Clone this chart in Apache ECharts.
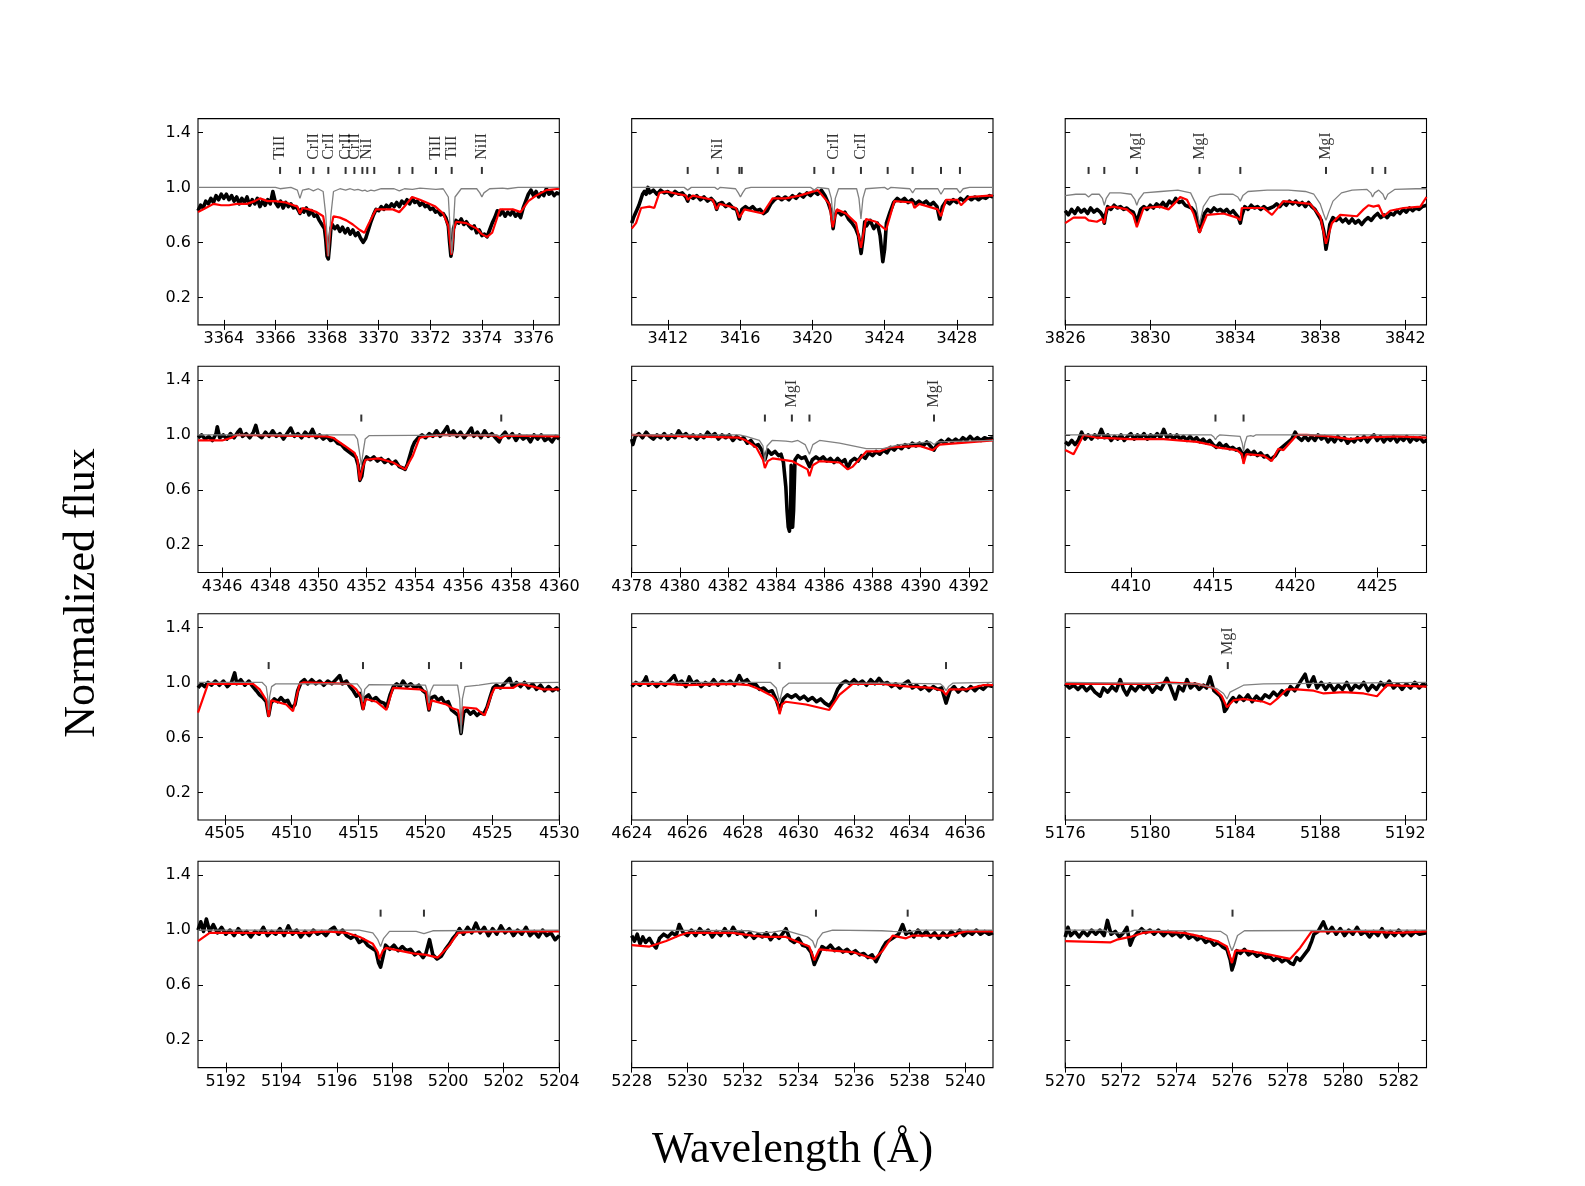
<!DOCTYPE html>
<html><head><meta charset="utf-8">
<script src="https://cdn.jsdelivr.net/npm/echarts@6/dist/echarts.min.js"></script>
<style>html,body{margin:0;padding:0;background:#fff}#c{width:1585px;height:1186px}</style>
</head><body><div id="c"></div>
<script>
// ---------- tick values ----------
const yTicks = [0.2, 0.6, 1.0, 1.4];
const xRange1 = [3363, 3377], xTicks1 = [3364,3366,3368,3370,3372,3374,3376];
const xRange2 = [3410, 3430], xTicks2 = [3412,3416,3420,3424,3428];
const xRange3 = [3826, 3843], xTicks3 = [3826,3830,3834,3838,3842];
const xRange4 = [4345, 4360], xTicks4 = [4346,4348,4350,4352,4354,4356,4358,4360];
const xRange5 = [4378, 4393], xTicks5 = [4378,4380,4382,4384,4386,4388,4390,4392];
const xRange6 = [4406, 4428], xTicks6 = [4410,4415,4420,4425];
const xRange7 = [4503, 4530], xTicks7 = [4505,4510,4515,4520,4525,4530];
const xRange8 = [4624, 4637], xTicks8 = [4624,4626,4628,4630,4632,4634,4636];
const xRange9 = [5176, 5193], xTicks9 = [5176,5180,5184,5188,5192];
const xRange10 = [5191, 5204], xTicks10 = [5192,5194,5196,5198,5200,5202,5204];
const xRange11 = [5228, 5241], xTicks11 = [5228,5230,5232,5234,5236,5238,5240];
const xRange12 = [5270, 5283], xTicks12 = [5270,5272,5274,5276,5278,5280,5282];

// ---------- panel 1 ----------
const obs1 = [[3363.0,0.83],[3363.1,0.87],[3363.2,0.85],[3363.3,0.90],[3363.4,0.88],[3363.5,0.92],[3363.6,0.89],[3363.7,0.94],[3363.8,0.91],[3363.9,0.95],[3364.0,0.92],[3364.1,0.95],[3364.2,0.91],[3364.3,0.94],[3364.4,0.90],[3364.5,0.93],[3364.6,0.88],[3364.7,0.92],[3364.8,0.89],[3364.9,0.93],[3365.0,0.87],[3365.1,0.91],[3365.2,0.88],[3365.3,0.92],[3365.4,0.86],[3365.5,0.90],[3365.6,0.87],[3365.7,0.91],[3365.8,0.88],[3365.9,0.97],[3366.0,0.89],[3366.1,0.86],[3366.2,0.90],[3366.3,0.85],[3366.4,0.89],[3366.5,0.86],[3366.6,0.88],[3366.7,0.85],[3366.8,0.86],[3366.9,0.83],[3366.95,0.81],[3367.0,0.84],[3367.1,0.82],[3367.2,0.85],[3367.3,0.80],[3367.4,0.83],[3367.5,0.79],[3367.6,0.80],[3367.7,0.76],[3367.8,0.73],[3367.9,0.70],[3367.95,0.62],[3368.0,0.50],[3368.05,0.48],[3368.1,0.58],[3368.15,0.70],[3368.2,0.73],[3368.3,0.70],[3368.4,0.72],[3368.5,0.68],[3368.6,0.71],[3368.7,0.67],[3368.8,0.70],[3368.9,0.66],[3369.0,0.69],[3369.1,0.65],[3369.2,0.67],[3369.3,0.63],[3369.4,0.60],[3369.5,0.63],[3369.6,0.69],[3369.7,0.75],[3369.8,0.80],[3369.9,0.84],[3370.0,0.83],[3370.1,0.86],[3370.2,0.84],[3370.3,0.87],[3370.4,0.85],[3370.5,0.88],[3370.6,0.86],[3370.7,0.89],[3370.8,0.86],[3370.9,0.90],[3371.0,0.88],[3371.1,0.91],[3371.2,0.88],[3371.3,0.92],[3371.4,0.89],[3371.5,0.90],[3371.6,0.87],[3371.7,0.89],[3371.8,0.86],[3371.9,0.87],[3372.0,0.84],[3372.1,0.85],[3372.2,0.82],[3372.3,0.83],[3372.4,0.80],[3372.5,0.81],[3372.6,0.78],[3372.7,0.72],[3372.75,0.60],[3372.8,0.50],[3372.85,0.55],[3372.9,0.70],[3373.0,0.76],[3373.1,0.74],[3373.2,0.77],[3373.3,0.73],[3373.4,0.75],[3373.5,0.72],[3373.6,0.70],[3373.7,0.72],[3373.8,0.67],[3373.9,0.69],[3374.0,0.65],[3374.1,0.66],[3374.2,0.64],[3374.3,0.69],[3374.4,0.74],[3374.5,0.78],[3374.6,0.83],[3374.7,0.80],[3374.8,0.83],[3374.9,0.79],[3375.0,0.82],[3375.1,0.80],[3375.2,0.83],[3375.3,0.79],[3375.4,0.81],[3375.5,0.78],[3375.6,0.85],[3375.7,0.90],[3375.8,0.95],[3375.9,0.98],[3376.0,0.94],[3376.1,0.97],[3376.2,0.93],[3376.3,0.96],[3376.4,0.94],[3376.5,0.99],[3376.6,0.95],[3376.7,0.97],[3376.8,0.94],[3376.9,0.96],[3377.0,0.95]];
const mod1 = [[3363.0,0.82],[3363.3,0.85],[3363.6,0.88],[3363.9,0.87],[3364.2,0.87],[3364.5,0.88],[3364.9,0.88],[3365.2,0.90],[3365.4,0.92],[3365.7,0.90],[3366.0,0.90],[3366.4,0.89],[3366.7,0.87],[3366.85,0.86],[3366.95,0.81],[3367.05,0.85],[3367.3,0.84],[3367.6,0.82],[3367.85,0.79],[3367.95,0.68],[3368.04,0.50],[3368.12,0.68],[3368.25,0.79],[3368.5,0.78],[3368.75,0.76],[3369.0,0.73],[3369.27,0.69],[3369.45,0.67],[3369.6,0.73],[3369.9,0.84],[3370.2,0.84],[3370.55,0.84],[3370.8,0.82],[3371.0,0.86],[3371.3,0.93],[3371.6,0.91],[3371.85,0.89],[3372.2,0.86],[3372.5,0.81],[3372.7,0.72],[3372.82,0.51],[3372.92,0.70],[3373.0,0.75],[3373.4,0.74],[3373.8,0.70],[3374.0,0.66],[3374.2,0.64],[3374.4,0.67],[3374.7,0.84],[3375.2,0.84],[3375.5,0.82],[3375.8,0.90],[3376.1,0.94],[3376.5,0.98],[3377.0,0.99]];
const syn1 = [[3363.0,1.0],[3366.0,1.0],[3366.18,0.99],[3366.6,1.0],[3366.85,0.98],[3366.95,0.92],[3367.05,0.98],[3367.3,0.99],[3367.47,0.975],[3367.65,0.99],[3367.85,0.97],[3367.95,0.80],[3368.05,0.50],[3368.15,0.80],[3368.25,0.97],[3368.5,0.99],[3368.72,0.98],[3368.9,0.99],[3369.06,0.98],[3369.2,0.985],[3369.37,0.975],[3369.47,0.98],[3369.56,0.97],[3369.7,0.98],[3369.83,0.975],[3370.1,0.99],[3370.6,0.99],[3370.8,0.975],[3371.0,0.99],[3371.31,0.985],[3371.6,0.995],[3372.22,0.985],[3372.5,0.99],[3372.7,0.93],[3372.77,0.70],[3372.83,0.52],[3372.89,0.70],[3372.96,0.93],[3373.2,0.99],[3373.8,0.99],[3373.92,0.96],[3374.0,0.93],[3374.08,0.96],[3374.3,0.99],[3374.8,0.995],[3375.0,0.99],[3375.4,1.0],[3377.0,1.0]];
const marks1 = [[3366.18,'TiII'],[3366.95,''],[3367.47,'CrII'],[3368.05,'CrII'],[3368.72,'CrII'],[3369.06,'CrII'],[3369.37,''],[3369.56,'NiI'],[3369.83,''],[3370.80,''],[3371.31,''],[3372.22,'TiII'],[3372.83,'TiII'],[3374.00,'NiII']];

// ---------- panel 2 ----------
const obs2 = [[3410.0,0.74],[3410.1,0.78],[3410.2,0.81],[3410.3,0.84],[3410.4,0.87],[3410.5,0.91],[3410.6,0.95],[3410.7,0.97],[3410.8,0.95],[3410.9,1.00],[3411.0,0.96],[3411.2,0.98],[3411.4,0.95],[3411.6,0.98],[3411.8,0.96],[3412.0,0.97],[3412.2,0.94],[3412.4,0.97],[3412.6,0.95],[3412.8,0.96],[3413.0,0.93],[3413.1,0.90],[3413.2,0.94],[3413.4,0.92],[3413.6,0.94],[3413.8,0.91],[3414.0,0.93],[3414.2,0.90],[3414.4,0.92],[3414.6,0.89],[3414.7,0.84],[3414.8,0.88],[3415.0,0.89],[3415.2,0.86],[3415.4,0.88],[3415.6,0.85],[3415.8,0.84],[3415.95,0.77],[3416.1,0.84],[3416.3,0.86],[3416.5,0.84],[3416.7,0.86],[3416.9,0.83],[3417.1,0.84],[3417.3,0.81],[3417.5,0.83],[3417.7,0.88],[3417.9,0.91],[3418.1,0.93],[3418.3,0.91],[3418.5,0.93],[3418.7,0.91],[3418.9,0.94],[3419.1,0.92],[3419.3,0.95],[3419.5,0.93],[3419.7,0.96],[3419.9,0.94],[3420.1,0.97],[3420.3,0.95],[3420.5,0.98],[3420.7,0.94],[3420.9,0.88],[3421.05,0.82],[3421.15,0.70],[3421.25,0.80],[3421.4,0.83],[3421.6,0.80],[3421.8,0.82],[3422.0,0.77],[3422.2,0.74],[3422.4,0.70],[3422.55,0.65],[3422.7,0.52],[3422.8,0.62],[3422.9,0.75],[3423.0,0.72],[3423.2,0.76],[3423.4,0.70],[3423.6,0.74],[3423.75,0.65],[3423.9,0.46],[3424.0,0.55],[3424.1,0.74],[3424.3,0.82],[3424.5,0.89],[3424.7,0.92],[3424.9,0.90],[3425.1,0.92],[3425.3,0.89],[3425.5,0.91],[3425.7,0.88],[3425.9,0.90],[3426.1,0.88],[3426.3,0.90],[3426.5,0.87],[3426.7,0.89],[3426.9,0.86],[3427.05,0.77],[3427.2,0.86],[3427.4,0.90],[3427.6,0.88],[3427.8,0.91],[3428.0,0.89],[3428.2,0.92],[3428.4,0.90],[3428.6,0.93],[3428.8,0.91],[3429.0,0.93],[3429.2,0.91],[3429.4,0.93],[3429.6,0.92],[3429.8,0.94],[3430.0,0.93]];
const mod2 = [[3410.0,0.70],[3410.24,0.74],[3410.52,0.85],[3410.98,0.86],[3411.25,0.85],[3411.53,0.96],[3411.90,0.97],[3413.01,0.94],[3413.10,0.91],[3413.38,0.94],[3414.48,0.91],[3414.70,0.84],[3414.85,0.88],[3415.77,0.85],[3415.96,0.78],[3416.24,0.84],[3417.25,0.81],[3417.80,0.92],[3418.54,0.92],[3419.28,0.94],[3420.30,0.98],[3420.94,0.88],[3421.13,0.71],[3421.35,0.84],[3421.86,0.81],[3422.42,0.74],[3422.69,0.56],[3422.97,0.77],[3423.52,0.75],[3424.08,0.69],[3424.54,0.90],[3425.55,0.89],[3425.65,0.85],[3425.92,0.88],[3426.94,0.84],[3427.12,0.79],[3427.40,0.91],[3428.04,0.91],[3428.23,0.87],[3428.69,0.93],[3429.80,0.94],[3430.0,0.94]];
const syn2 = [[3410.0,1.0],[3412.9,1.0],[3413.10,0.98],[3413.3,1.0],[3414.6,1.0],[3414.76,0.985],[3414.9,1.0],[3415.75,0.99],[3415.9,0.96],[3416.02,0.93],[3416.14,0.96],[3416.3,0.99],[3416.6,1.0],[3419.9,1.0],[3420.11,0.98],[3420.3,1.0],[3420.9,0.99],[3421.05,0.92],[3421.16,0.76],[3421.27,0.92],[3421.45,0.99],[3422.45,0.99],[3422.58,0.92],[3422.69,0.77],[3422.8,0.92],[3422.95,0.99],[3424.0,1.0],[3424.17,0.985],[3424.35,1.0],[3425.4,0.99],[3425.55,0.96],[3425.7,0.99],[3426.95,0.99],[3427.12,0.95],[3427.3,0.99],[3428.0,0.99],[3428.17,0.96],[3428.35,0.99],[3428.7,1.0],[3430.0,1.0]];
const marks2 = [[3413.10,''],[3414.76,'NiI'],[3415.96,''],[3416.09,''],[3420.11,''],[3421.16,'CrII'],[3422.69,'CrII'],[3424.17,''],[3425.55,''],[3427.12,''],[3428.17,'']];

// ---------- panel 3 ----------
const obs3 = [[3826.0,0.83],[3826.15,0.80],[3826.3,0.84],[3826.45,0.81],[3826.6,0.85],[3826.75,0.82],[3826.9,0.84],[3827.05,0.81],[3827.2,0.85],[3827.35,0.82],[3827.5,0.84],[3827.65,0.82],[3827.78,0.79],[3827.84,0.74],[3827.9,0.80],[3828.0,0.86],[3828.15,0.84],[3828.3,0.87],[3828.45,0.85],[3828.6,0.86],[3828.75,0.84],[3828.9,0.85],[3829.05,0.83],[3829.2,0.82],[3829.3,0.78],[3829.37,0.74],[3829.45,0.79],[3829.55,0.84],[3829.7,0.86],[3829.85,0.84],[3830.0,0.87],[3830.15,0.85],[3830.3,0.88],[3830.45,0.86],[3830.6,0.89],[3830.75,0.86],[3830.9,0.90],[3831.05,0.88],[3831.2,0.92],[3831.35,0.89],[3831.5,0.90],[3831.65,0.87],[3831.8,0.86],[3831.95,0.85],[3832.1,0.82],[3832.2,0.77],[3832.32,0.68],[3832.42,0.74],[3832.55,0.81],[3832.7,0.84],[3832.85,0.82],[3833.0,0.85],[3833.15,0.83],[3833.3,0.84],[3833.45,0.82],[3833.6,0.84],[3833.75,0.81],[3833.9,0.83],[3834.05,0.80],[3834.15,0.78],[3834.24,0.74],[3834.32,0.80],[3834.45,0.86],[3834.6,0.84],[3834.75,0.87],[3834.9,0.85],[3835.05,0.86],[3835.2,0.84],[3835.35,0.86],[3835.5,0.84],[3835.65,0.85],[3835.8,0.86],[3835.95,0.88],[3836.1,0.86],[3836.25,0.89],[3836.4,0.87],[3836.55,0.90],[3836.7,0.88],[3836.85,0.90],[3837.0,0.87],[3837.15,0.89],[3837.3,0.86],[3837.45,0.89],[3837.6,0.86],[3837.75,0.84],[3837.9,0.80],[3838.05,0.76],[3838.17,0.68],[3838.27,0.55],[3838.35,0.62],[3838.45,0.73],[3838.6,0.78],[3838.75,0.76],[3838.9,0.78],[3839.05,0.75],[3839.2,0.77],[3839.35,0.74],[3839.5,0.77],[3839.65,0.74],[3839.8,0.76],[3839.95,0.73],[3840.1,0.76],[3840.25,0.78],[3840.4,0.76],[3840.55,0.79],[3840.7,0.81],[3840.85,0.78],[3841.0,0.80],[3841.15,0.78],[3841.3,0.81],[3841.45,0.80],[3841.6,0.83],[3841.75,0.81],[3841.9,0.84],[3842.05,0.82],[3842.2,0.85],[3842.35,0.83],[3842.5,0.85],[3842.65,0.84],[3842.8,0.86],[3843.0,0.87]];
const mod3 = [[3826.0,0.74],[3826.39,0.78],[3826.94,0.78],[3827.10,0.76],[3827.49,0.75],[3827.73,0.77],[3827.84,0.74],[3827.96,0.85],[3828.27,0.86],[3828.90,0.84],[3829.2,0.80],[3829.37,0.71],[3829.69,0.85],[3830.47,0.86],[3830.86,0.84],[3831.25,0.90],[3831.41,0.93],[3831.73,0.91],[3832.04,0.81],[3832.32,0.67],[3832.67,0.80],[3833.45,0.81],[3834.08,0.78],[3834.24,0.76],[3834.31,0.85],[3835.33,0.85],[3835.73,0.80],[3836.27,0.90],[3837.53,0.88],[3838.00,0.79],[3838.27,0.59],[3838.55,0.74],[3838.94,0.80],[3839.73,0.79],[3840.04,0.84],[3840.27,0.87],[3840.51,0.86],[3840.75,0.87],[3840.98,0.79],[3841.29,0.83],[3841.92,0.85],[3842.71,0.86],[3843.0,0.93]];
const syn3 = [[3826.0,0.94],[3826.5,0.95],[3826.95,0.95],[3827.1,0.93],[3827.25,0.95],[3827.6,0.95],[3827.75,0.92],[3827.84,0.87],[3827.93,0.92],[3828.1,0.96],[3828.6,0.96],[3829.1,0.95],[3829.28,0.91],[3829.37,0.87],[3829.46,0.91],[3829.7,0.96],[3830.5,0.97],[3831.3,0.98],[3831.9,0.96],[3832.15,0.88],[3832.32,0.73],[3832.5,0.86],[3832.8,0.93],[3833.3,0.95],[3833.9,0.95],[3834.12,0.93],[3834.24,0.90],[3834.36,0.94],[3834.6,0.97],[3835.5,0.98],[3836.5,0.98],[3837.3,0.97],[3837.7,0.95],[3838.0,0.88],[3838.15,0.81],[3838.27,0.76],[3838.4,0.82],[3838.6,0.90],[3839.0,0.96],[3839.5,0.98],[3840.2,0.985],[3840.38,0.96],[3840.46,0.93],[3840.56,0.96],[3840.75,0.98],[3840.95,0.95],[3841.06,0.91],[3841.18,0.95],[3841.5,0.985],[3842.5,0.99],[3843.0,0.99]];
const marks3 = [[3827.10,''],[3827.84,''],[3829.37,'MgI'],[3832.32,'MgI'],[3834.24,''],[3838.27,'MgI'],[3840.46,''],[3841.06,'']];

// ---------- panel 4 ----------
const obs4 = [[4345.0,0.98],[4345.15,1.00],[4345.3,0.97],[4345.45,0.99],[4345.6,0.96],[4345.75,1.01],[4345.8,1.06],[4345.9,0.98],[4346.05,1.00],[4346.2,0.97],[4346.35,1.01],[4346.5,0.98],[4346.65,1.02],[4346.75,1.04],[4346.85,0.99],[4347.0,1.01],[4347.15,0.98],[4347.3,1.02],[4347.4,1.07],[4347.5,1.00],[4347.65,0.98],[4347.8,1.02],[4347.95,0.99],[4348.1,1.03],[4348.25,0.99],[4348.4,1.01],[4348.55,0.97],[4348.7,1.01],[4348.85,1.05],[4349.0,0.99],[4349.15,1.01],[4349.3,0.98],[4349.45,1.02],[4349.6,0.99],[4349.75,1.04],[4349.9,0.98],[4350.05,1.00],[4350.2,0.97],[4350.35,0.99],[4350.5,0.96],[4350.65,0.97],[4350.8,0.94],[4350.95,0.93],[4351.1,0.90],[4351.25,0.88],[4351.4,0.86],[4351.55,0.84],[4351.65,0.78],[4351.72,0.67],[4351.8,0.70],[4351.88,0.80],[4352.0,0.84],[4352.15,0.82],[4352.3,0.84],[4352.45,0.81],[4352.6,0.83],[4352.75,0.80],[4352.9,0.82],[4353.05,0.79],[4353.2,0.81],[4353.35,0.77],[4353.5,0.76],[4353.6,0.75],[4353.7,0.79],[4353.8,0.85],[4353.9,0.91],[4354.0,0.95],[4354.15,0.98],[4354.3,1.00],[4354.45,0.98],[4354.6,1.01],[4354.75,0.99],[4354.9,1.03],[4355.05,0.99],[4355.2,1.02],[4355.35,1.06],[4355.45,1.00],[4355.6,1.03],[4355.75,0.99],[4355.9,1.02],[4356.05,0.98],[4356.2,1.01],[4356.35,1.05],[4356.45,0.99],[4356.6,1.02],[4356.75,0.98],[4356.9,1.03],[4357.05,0.99],[4357.2,1.01],[4357.35,0.98],[4357.5,0.95],[4357.6,0.99],[4357.75,1.02],[4357.9,0.98],[4358.05,1.01],[4358.2,0.96],[4358.35,1.00],[4358.5,0.97],[4358.65,0.99],[4358.8,0.95],[4358.95,1.00],[4359.1,0.97],[4359.25,1.00],[4359.4,0.96],[4359.55,0.98],[4359.7,0.95],[4359.85,0.99],[4360.0,0.97]];
const mod4 = [[4345.0,0.96],[4345.5,0.96],[4346.0,0.96],[4346.4,0.98],[4346.6,1.0],[4350.33,0.99],[4350.6,0.98],[4351.1,0.92],[4351.5,0.87],[4351.62,0.82],[4351.72,0.67],[4351.82,0.75],[4351.95,0.82],[4352.5,0.83],[4353.1,0.80],[4353.6,0.75],[4353.92,0.85],[4354.2,0.98],[4354.5,0.99],[4355.2,1.0],[4357.4,0.995],[4357.55,0.975],[4357.75,0.995],[4360.0,0.99]];
const syn4 = [[4345.0,1.0],[4351.5,1.0],[4351.62,0.97],[4351.7,0.88],[4351.78,0.78],[4351.86,0.88],[4351.94,0.97],[4352.1,0.995],[4357.4,1.0],[4357.55,0.99],[4357.7,1.0],[4360.0,1.0]];
const marks4 = [[4351.78,''],[4357.59,'']];

// ---------- panel 5 ----------
const obs5 = [[4378.0,0.97],[4378.05,0.93],[4378.15,0.99],[4378.3,1.01],[4378.45,0.98],[4378.6,1.02],[4378.75,0.99],[4378.9,0.97],[4379.05,1.00],[4379.2,0.98],[4379.35,1.01],[4379.5,0.97],[4379.65,1.00],[4379.8,0.98],[4379.95,1.03],[4380.1,0.99],[4380.25,1.01],[4380.4,0.98],[4380.55,1.00],[4380.7,0.97],[4380.85,1.00],[4381.0,0.98],[4381.15,1.02],[4381.3,0.99],[4381.45,1.01],[4381.6,0.97],[4381.75,1.00],[4381.9,0.98],[4382.05,1.00],[4382.2,0.96],[4382.35,0.99],[4382.5,0.97],[4382.65,0.98],[4382.8,0.94],[4382.95,0.96],[4383.1,0.92],[4383.25,0.93],[4383.4,0.89],[4383.53,0.82],[4383.65,0.89],[4383.8,0.86],[4383.95,0.88],[4384.1,0.85],[4384.2,0.86],[4384.3,0.80],[4384.4,0.62],[4384.45,0.45],[4384.5,0.33],[4384.55,0.30],[4384.6,0.45],[4384.62,0.78],[4384.65,0.60],[4384.68,0.33],[4384.72,0.45],[4384.78,0.82],[4384.9,0.85],[4385.05,0.83],[4385.2,0.84],[4385.38,0.77],[4385.5,0.82],[4385.65,0.84],[4385.8,0.82],[4385.95,0.84],[4386.1,0.81],[4386.25,0.83],[4386.4,0.80],[4386.55,0.83],[4386.7,0.80],[4386.85,0.82],[4386.97,0.76],[4387.1,0.81],[4387.25,0.83],[4387.4,0.81],[4387.55,0.85],[4387.7,0.83],[4387.85,0.87],[4388.0,0.85],[4388.15,0.88],[4388.3,0.86],[4388.45,0.89],[4388.6,0.87],[4388.75,0.91],[4388.9,0.89],[4389.05,0.92],[4389.2,0.90],[4389.35,0.93],[4389.5,0.91],[4389.65,0.94],[4389.8,0.92],[4389.95,0.94],[4390.1,0.92],[4390.25,0.95],[4390.4,0.92],[4390.55,0.89],[4390.7,0.94],[4390.85,0.96],[4391.0,0.94],[4391.15,0.97],[4391.3,0.95],[4391.45,0.97],[4391.6,0.95],[4391.75,0.98],[4391.9,0.96],[4392.05,0.99],[4392.2,0.96],[4392.35,0.98],[4392.5,0.96],[4392.65,0.98],[4392.8,0.97],[4393.0,0.98]];
const mod5 = [[4378.0,1.0],[4382.47,0.98],[4382.75,0.96],[4383.17,0.91],[4383.45,0.82],[4383.53,0.76],[4383.65,0.81],[4383.85,0.83],[4384.65,0.81],[4385.3,0.75],[4385.38,0.70],[4385.52,0.78],[4385.8,0.81],[4386.63,0.80],[4386.97,0.75],[4387.18,0.77],[4387.74,0.88],[4388.29,0.88],[4388.71,0.91],[4389.96,0.92],[4390.5,0.89],[4390.78,0.93],[4393.0,0.96]];
const syn5 = [[4378.0,1.0],[4382.47,1.0],[4382.75,0.99],[4383.3,0.96],[4383.45,0.92],[4383.53,0.81],[4383.62,0.92],[4383.83,0.96],[4384.4,0.955],[4384.65,0.95],[4384.9,0.96],[4385.2,0.93],[4385.38,0.86],[4385.52,0.93],[4385.8,0.96],[4386.63,0.94],[4387.74,0.90],[4388.43,0.90],[4389.12,0.93],[4390.4,0.95],[4390.55,0.93],[4390.7,0.95],[4393.0,0.96]];
const marks5 = [[4383.53,''],[4384.65,'MgI'],[4385.38,''],[4390.55,'MgI']];

// ---------- panel 6 ----------
const obs6 = [[4406.0,0.95],[4406.2,0.93],[4406.4,0.96],[4406.6,0.93],[4406.8,0.96],[4407.0,1.02],[4407.2,0.97],[4407.4,1.00],[4407.6,0.97],[4407.8,1.00],[4408.0,0.98],[4408.2,1.04],[4408.4,0.98],[4408.6,1.00],[4408.8,0.96],[4409.0,0.99],[4409.2,0.97],[4409.4,1.00],[4409.6,0.96],[4409.8,0.99],[4410.0,1.01],[4410.2,0.97],[4410.4,1.00],[4410.6,0.98],[4410.8,1.01],[4411.0,0.97],[4411.2,1.00],[4411.4,0.98],[4411.6,1.01],[4411.8,0.98],[4412.0,1.04],[4412.2,0.98],[4412.4,1.00],[4412.6,0.97],[4412.8,1.00],[4413.0,0.97],[4413.2,0.99],[4413.4,0.96],[4413.6,0.99],[4413.8,0.96],[4414.0,0.98],[4414.2,0.95],[4414.4,0.97],[4414.6,0.94],[4414.8,0.96],[4415.0,0.93],[4415.2,0.91],[4415.4,0.94],[4415.6,0.91],[4415.8,0.93],[4416.0,0.90],[4416.2,0.91],[4416.4,0.89],[4416.6,0.90],[4416.75,0.87],[4416.86,0.83],[4416.95,0.87],[4417.1,0.89],[4417.3,0.86],[4417.5,0.88],[4417.7,0.85],[4417.9,0.87],[4418.1,0.84],[4418.3,0.85],[4418.5,0.82],[4418.6,0.81],[4418.8,0.85],[4419.0,0.89],[4419.2,0.91],[4419.4,0.93],[4419.6,0.95],[4419.8,0.97],[4420.0,1.02],[4420.2,0.98],[4420.4,0.96],[4420.6,0.99],[4420.8,0.96],[4421.0,0.99],[4421.2,0.96],[4421.4,1.00],[4421.6,0.97],[4421.8,0.99],[4422.0,0.95],[4422.2,0.98],[4422.4,0.95],[4422.6,0.99],[4422.8,0.96],[4423.0,0.98],[4423.2,0.94],[4423.4,0.97],[4423.6,0.95],[4423.8,0.98],[4424.0,0.96],[4424.2,0.99],[4424.4,0.95],[4424.6,0.98],[4424.8,1.00],[4425.0,0.96],[4425.2,0.99],[4425.4,0.95],[4425.6,0.98],[4425.8,0.96],[4426.0,0.99],[4426.2,0.95],[4426.4,0.98],[4426.6,0.96],[4426.8,0.99],[4427.0,0.95],[4427.2,0.98],[4427.4,0.96],[4427.6,0.98],[4427.8,0.95],[4428.0,0.96]];
const mod6 = [[4406.0,0.89],[4406.51,0.86],[4407.12,1.0],[4407.93,0.98],[4409.96,0.97],[4411.99,0.97],[4414.02,0.95],[4414.83,0.93],[4415.24,0.91],[4416.45,0.89],[4416.76,0.86],[4416.86,0.79],[4417.02,0.86],[4418.08,0.85],[4418.58,0.81],[4418.99,0.90],[4419.29,0.89],[4420.11,1.0],[4420.71,1.0],[4422.14,0.99],[4423.35,0.97],[4424.17,0.98],[4426.19,0.99],[4428.0,0.98]];
const syn6 = [[4406.0,1.0],[4414.9,1.0],[4415.05,0.985],[4415.15,0.965],[4415.25,0.985],[4415.4,1.0],[4416.65,0.99],[4416.78,0.94],[4416.86,0.88],[4416.94,0.94],[4417.07,0.99],[4417.3,0.995],[4417.45,0.99],[4417.6,1.0],[4428.0,1.0]];
const marks6 = [[4415.15,''],[4416.86,'']];

// ---------- panel 7 ----------
const obs7 = [[4503.0,0.96],[4503.25,0.99],[4503.5,0.97],[4503.75,1.00],[4504.0,0.98],[4504.3,1.01],[4504.6,0.98],[4504.9,1.01],[4505.2,0.97],[4505.5,1.00],[4505.74,1.07],[4505.9,0.99],[4506.2,1.02],[4506.5,0.98],[4506.8,1.01],[4507.1,0.97],[4507.36,0.94],[4507.6,0.91],[4507.85,0.89],[4508.1,0.86],[4508.28,0.76],[4508.45,0.85],[4508.7,0.88],[4508.95,0.86],[4509.2,0.89],[4509.45,0.86],[4509.7,0.87],[4509.9,0.83],[4510.1,0.82],[4510.25,0.84],[4510.45,0.94],[4510.7,1.00],[4510.95,1.02],[4511.2,0.99],[4511.5,1.02],[4511.8,0.99],[4512.1,1.01],[4512.4,0.98],[4512.7,1.01],[4513.0,0.99],[4513.3,1.02],[4513.59,1.05],[4513.8,0.99],[4514.1,1.01],[4514.35,0.97],[4514.6,0.94],[4514.85,0.90],[4515.1,0.92],[4515.33,0.81],[4515.5,0.89],[4515.75,0.91],[4516.0,0.87],[4516.3,0.89],[4516.6,0.86],[4516.9,0.85],[4517.1,0.82],[4517.35,0.91],[4517.6,0.97],[4517.85,0.99],[4518.1,0.97],[4518.32,1.01],[4518.6,0.97],[4518.9,0.99],[4519.2,0.96],[4519.5,0.98],[4519.8,0.94],[4520.05,0.92],[4520.26,0.80],[4520.45,0.89],[4520.7,0.90],[4520.95,0.87],[4521.2,0.89],[4521.45,0.85],[4521.7,0.86],[4521.95,0.80],[4522.2,0.78],[4522.45,0.76],[4522.66,0.63],[4522.85,0.78],[4523.1,0.80],[4523.35,0.77],[4523.6,0.79],[4523.85,0.76],[4524.1,0.78],[4524.35,0.77],[4524.6,0.82],[4524.85,0.90],[4525.05,0.96],[4525.3,0.98],[4525.6,0.96],[4525.9,0.99],[4526.29,1.03],[4526.5,0.97],[4526.8,1.00],[4527.1,0.97],[4527.4,1.00],[4527.7,0.96],[4528.0,0.99],[4528.3,0.95],[4528.6,0.98],[4528.9,0.94],[4529.2,0.97],[4529.5,0.94],[4529.8,0.96],[4530.0,0.94]];
const mod7 = [[4503.0,0.78],[4503.75,0.99],[4507.11,0.99],[4507.61,0.95],[4508.11,0.87],[4508.28,0.75],[4508.48,0.87],[4509.60,0.84],[4510.10,0.79],[4510.60,0.99],[4510.85,1.0],[4514.34,0.99],[4514.83,0.95],[4515.21,0.89],[4515.33,0.80],[4515.53,0.88],[4516.33,0.86],[4517.08,0.80],[4517.57,0.96],[4519.57,0.95],[4520.07,0.93],[4520.26,0.80],[4520.44,0.87],[4521.56,0.84],[4522.06,0.81],[4522.43,0.80],[4522.56,0.81],[4522.66,0.69],[4522.81,0.82],[4523.80,0.81],[4524.42,0.76],[4524.92,0.91],[4525.17,0.96],[4526.54,0.96],[4527.04,0.99],[4528.04,0.97],[4528.78,0.95],[4530.0,0.95]];
const syn7 = [[4503.0,1.0],[4507.8,1.0],[4508.1,0.97],[4508.2,0.90],[4508.28,0.80],[4508.36,0.90],[4508.5,0.97],[4508.8,0.99],[4514.9,0.99],[4515.2,0.95],[4515.33,0.86],[4515.46,0.95],[4515.8,0.985],[4520.0,0.98],[4520.16,0.93],[4520.26,0.85],[4520.36,0.93],[4520.6,0.98],[4522.4,0.98],[4522.56,0.88],[4522.66,0.63],[4522.76,0.88],[4522.95,0.97],[4524.0,0.98],[4525.0,0.995],[4530.0,1.0]];
const marks7 = [[4508.28,''],[4515.33,''],[4520.26,''],[4522.66,'']];

// ---------- panel 8 ----------
const obs8 = [[4624.0,0.97],[4624.15,1.00],[4624.3,0.98],[4624.45,1.01],[4624.52,1.04],[4624.6,0.98],[4624.75,1.00],[4624.9,0.97],[4625.05,1.00],[4625.2,0.98],[4625.35,1.01],[4625.53,1.05],[4625.65,0.99],[4625.8,1.01],[4625.95,0.97],[4626.07,1.04],[4626.2,0.99],[4626.35,1.01],[4626.5,0.97],[4626.65,1.00],[4626.8,0.98],[4626.95,1.02],[4627.1,0.98],[4627.25,1.01],[4627.4,0.99],[4627.55,1.01],[4627.7,0.98],[4627.87,1.05],[4628.0,1.00],[4628.15,1.02],[4628.3,0.98],[4628.45,0.99],[4628.6,0.95],[4628.75,0.96],[4628.9,0.93],[4629.05,0.94],[4629.19,0.88],[4629.32,0.80],[4629.45,0.88],[4629.6,0.91],[4629.75,0.89],[4629.9,0.91],[4630.05,0.88],[4630.2,0.90],[4630.35,0.87],[4630.5,0.89],[4630.65,0.86],[4630.8,0.88],[4630.95,0.85],[4631.11,0.83],[4631.25,0.87],[4631.41,0.95],[4631.55,0.99],[4631.7,1.01],[4631.85,0.99],[4632.0,1.02],[4632.15,0.99],[4632.3,1.01],[4632.45,0.98],[4632.6,1.02],[4632.75,0.99],[4632.9,1.03],[4633.05,0.99],[4633.2,1.00],[4633.35,0.97],[4633.5,0.99],[4633.65,0.96],[4633.8,0.99],[4633.95,1.01],[4634.1,0.96],[4634.25,0.98],[4634.4,0.95],[4634.55,0.97],[4634.7,0.94],[4634.85,0.97],[4635.0,0.95],[4635.15,0.96],[4635.31,0.85],[4635.45,0.94],[4635.6,0.97],[4635.75,0.93],[4635.9,0.96],[4636.05,0.94],[4636.2,0.97],[4636.35,0.94],[4636.5,0.97],[4636.65,0.95],[4636.8,0.98],[4637.0,0.97]];
const mod8 = [[4624.0,0.99],[4625.24,0.99],[4625.95,0.98],[4627.63,0.99],[4628.23,0.98],[4628.59,0.95],[4629.07,0.90],[4629.25,0.85],[4629.32,0.77],[4629.41,0.84],[4629.55,0.86],[4630.27,0.84],[4631.11,0.80],[4631.47,0.91],[4631.95,0.99],[4633.03,0.99],[4633.39,0.98],[4633.99,0.97],[4634.83,0.96],[4635.19,0.94],[4635.31,0.91],[4635.43,0.95],[4636.03,0.95],[4636.63,0.98],[4637.0,0.98]];
const syn8 = [[4624.0,1.0],[4629.0,1.0],[4629.2,0.96],[4629.32,0.86],[4629.44,0.96],[4629.65,0.995],[4633.39,0.995],[4635.1,0.99],[4635.22,0.97],[4635.31,0.94],[4635.4,0.97],[4635.55,0.995],[4637.0,1.0]];
const marks8 = [[4629.32,''],[4635.31,'']];

// ---------- panel 9 ----------
const obs9 = [[5176.0,0.99],[5176.2,0.96],[5176.4,0.98],[5176.6,0.95],[5176.8,0.98],[5177.0,0.94],[5177.2,0.97],[5177.4,0.93],[5177.65,0.90],[5177.8,0.96],[5178.0,0.93],[5178.2,0.97],[5178.4,0.94],[5178.59,1.02],[5178.75,0.95],[5178.9,0.91],[5179.1,0.97],[5179.3,0.94],[5179.5,0.98],[5179.7,0.95],[5179.9,0.98],[5180.1,0.93],[5180.3,0.97],[5180.5,0.95],[5180.78,1.03],[5180.95,0.97],[5181.18,0.88],[5181.35,0.97],[5181.55,0.94],[5181.73,1.02],[5181.9,0.96],[5182.1,0.99],[5182.3,0.95],[5182.5,0.98],[5182.65,0.96],[5182.82,1.04],[5183.0,0.94],[5183.15,0.92],[5183.3,0.90],[5183.42,0.86],[5183.5,0.79],[5183.6,0.81],[5183.75,0.86],[5183.9,0.89],[5184.05,0.86],[5184.2,0.90],[5184.4,0.87],[5184.6,0.91],[5184.8,0.86],[5185.0,0.90],[5185.2,0.87],[5185.4,0.91],[5185.6,0.89],[5185.8,0.93],[5186.0,0.90],[5186.2,0.94],[5186.4,0.91],[5186.6,0.97],[5186.8,0.94],[5187.0,0.99],[5187.29,1.06],[5187.45,0.97],[5187.69,1.04],[5187.85,0.96],[5188.05,1.00],[5188.25,0.95],[5188.45,0.99],[5188.65,0.94],[5188.85,0.98],[5189.05,0.95],[5189.25,1.00],[5189.45,0.94],[5189.65,0.98],[5189.85,0.96],[5190.05,1.00],[5190.25,0.94],[5190.45,0.98],[5190.65,0.95],[5190.85,1.00],[5191.05,0.97],[5191.25,1.01],[5191.45,0.96],[5191.65,0.99],[5191.85,0.95],[5192.05,0.99],[5192.25,0.96],[5192.45,1.00],[5192.65,0.96],[5192.85,0.99],[5193.0,0.97]];
const mod9 = [[5176.0,0.99],[5176.86,0.99],[5177.49,0.99],[5180.16,0.99],[5180.63,1.0],[5182.20,0.99],[5182.98,0.96],[5183.37,0.90],[5183.61,0.82],[5183.92,0.87],[5184.39,0.88],[5185.33,0.86],[5185.65,0.84],[5186.04,0.89],[5186.43,0.95],[5186.90,0.95],[5187.69,0.94],[5188.16,0.92],[5189.10,0.93],[5190.04,0.92],[5190.67,0.90],[5191.14,0.98],[5193.0,0.97]];
const syn9 = [[5176.0,1.0],[5182.2,0.99],[5183.14,0.955],[5183.45,0.92],[5183.61,0.88],[5183.76,0.93],[5184.39,0.98],[5185.33,0.99],[5193.0,1.0]];
const marks9 = [[5183.65,'MgI']];

// ---------- panel 10 ----------
const obs10 = [[5191.0,1.00],[5191.1,1.06],[5191.2,0.99],[5191.3,1.08],[5191.42,0.99],[5191.55,1.04],[5191.7,0.98],[5191.85,1.02],[5192.0,0.97],[5192.15,1.00],[5192.3,0.96],[5192.45,1.01],[5192.6,0.97],[5192.75,0.99],[5192.9,0.95],[5193.05,0.99],[5193.2,0.97],[5193.35,1.02],[5193.5,0.96],[5193.65,0.99],[5193.8,0.97],[5193.95,1.01],[5194.1,0.96],[5194.25,1.03],[5194.4,0.97],[5194.55,1.00],[5194.7,0.95],[5194.85,0.99],[5195.0,0.96],[5195.15,1.00],[5195.3,0.97],[5195.45,0.99],[5195.6,0.96],[5195.75,1.00],[5195.9,1.02],[5196.05,0.97],[5196.2,1.00],[5196.34,0.96],[5196.5,0.94],[5196.65,0.96],[5196.8,0.91],[5196.95,0.93],[5197.1,0.89],[5197.25,0.87],[5197.4,0.85],[5197.5,0.76],[5197.57,0.73],[5197.65,0.80],[5197.75,0.89],[5197.9,0.86],[5198.05,0.89],[5198.2,0.85],[5198.35,0.88],[5198.5,0.85],[5198.65,0.86],[5198.8,0.82],[5198.95,0.84],[5199.1,0.80],[5199.2,0.83],[5199.33,0.93],[5199.45,0.82],[5199.6,0.79],[5199.75,0.81],[5199.9,0.86],[5200.05,0.90],[5200.17,0.94],[5200.3,0.97],[5200.41,1.01],[5200.55,0.97],[5200.7,1.02],[5200.85,0.98],[5201.0,1.05],[5201.15,0.98],[5201.3,1.02],[5201.45,0.96],[5201.6,1.01],[5201.75,0.97],[5201.9,1.03],[5202.05,0.98],[5202.2,1.01],[5202.35,0.96],[5202.5,1.00],[5202.65,0.97],[5202.8,1.02],[5202.95,0.96],[5203.1,0.99],[5203.25,0.95],[5203.4,1.00],[5203.55,0.96],[5203.7,0.98],[5203.85,0.93],[5204.0,0.96]];
const mod10 = [[5191.0,0.92],[5191.42,0.98],[5192.02,0.98],[5193.22,0.98],[5194.90,0.98],[5195.62,0.99],[5196.34,0.98],[5196.82,0.95],[5197.29,0.90],[5197.47,0.84],[5197.53,0.79],[5197.65,0.85],[5197.77,0.87],[5198.73,0.83],[5199.21,0.82],[5199.63,0.80],[5200.05,0.89],[5200.35,0.98],[5201.01,0.99],[5202.81,0.99],[5204.0,0.99]];
const syn10 = [[5191.0,1.0],[5196.8,1.0],[5197.29,0.98],[5197.47,0.93],[5197.57,0.88],[5197.68,0.94],[5197.89,0.99],[5198.85,0.99],[5199.13,0.975],[5199.45,0.995],[5204.0,1.0]];
const marks10 = [[5197.57,''],[5199.13,'']];

// ---------- panel 11 ----------
const obs11 = [[5228.0,0.96],[5228.1,0.92],[5228.2,0.97],[5228.3,0.90],[5228.4,0.95],[5228.5,0.91],[5228.64,0.94],[5228.75,0.90],[5228.88,0.87],[5229.0,0.94],[5229.15,0.97],[5229.3,0.95],[5229.45,0.98],[5229.6,0.96],[5229.71,1.04],[5229.85,0.98],[5230.0,0.96],[5230.15,1.00],[5230.3,0.96],[5230.45,1.01],[5230.6,0.97],[5230.75,1.00],[5230.9,0.95],[5231.05,0.99],[5231.2,0.96],[5231.35,1.01],[5231.5,0.96],[5231.65,1.02],[5231.8,0.97],[5231.95,0.99],[5232.1,0.95],[5232.25,0.98],[5232.4,0.94],[5232.55,0.97],[5232.7,0.95],[5232.85,0.98],[5233.0,0.93],[5233.15,0.97],[5233.3,0.94],[5233.45,0.98],[5233.55,1.01],[5233.7,0.93],[5233.85,0.91],[5234.0,0.94],[5234.15,0.89],[5234.3,0.88],[5234.45,0.84],[5234.57,0.75],[5234.7,0.81],[5234.85,0.88],[5235.0,0.86],[5235.15,0.89],[5235.3,0.85],[5235.45,0.87],[5235.6,0.84],[5235.75,0.86],[5235.9,0.83],[5236.05,0.85],[5236.2,0.82],[5236.35,0.83],[5236.5,0.80],[5236.65,0.82],[5236.79,0.77],[5236.91,0.82],[5237.03,0.87],[5237.15,0.91],[5237.3,0.93],[5237.45,0.95],[5237.6,0.97],[5237.75,1.04],[5237.87,0.97],[5238.0,0.99],[5238.15,0.95],[5238.3,1.00],[5238.45,0.96],[5238.6,0.99],[5238.75,0.95],[5238.9,0.98],[5239.05,0.94],[5239.2,0.98],[5239.35,0.95],[5239.5,0.99],[5239.65,0.96],[5239.8,1.00],[5239.95,0.96],[5240.1,0.99],[5240.25,0.97],[5240.4,1.00],[5240.55,0.97],[5240.7,0.99],[5240.85,0.97],[5241.0,0.98]];
const mod11 = [[5228.0,0.89],[5228.64,0.88],[5229.24,0.92],[5229.71,0.96],[5230.01,0.98],[5230.43,0.98],[5231.63,0.98],[5232.35,0.96],[5232.83,0.95],[5233.55,0.95],[5234.03,0.91],[5234.39,0.88],[5234.57,0.78],[5234.75,0.86],[5235.23,0.85],[5235.95,0.84],[5236.73,0.79],[5237.03,0.85],[5237.39,0.96],[5237.87,0.94],[5238.11,0.96],[5238.83,0.96],[5239.43,0.96],[5240.03,0.99],[5241.0,0.99]];
const syn11 = [[5228.0,1.0],[5232.2,0.995],[5232.6,0.98],[5233.07,0.985],[5233.5,1.0],[5234.33,0.95],[5234.51,0.92],[5234.61,0.87],[5234.69,0.93],[5234.87,0.98],[5235.23,1.0],[5237.0,0.995],[5237.39,0.99],[5237.93,0.985],[5238.3,1.0],[5241.0,1.0]];
const marks11 = [[5234.63,''],[5237.93,'']];

// ---------- panel 12 ----------
const obs12 = [[5270.0,0.95],[5270.1,1.02],[5270.2,0.96],[5270.35,0.99],[5270.5,0.95],[5270.65,0.99],[5270.8,0.96],[5270.95,1.00],[5271.1,0.97],[5271.25,1.00],[5271.4,0.96],[5271.52,1.07],[5271.65,0.97],[5271.8,0.99],[5271.95,0.95],[5272.1,0.98],[5272.22,1.02],[5272.34,0.89],[5272.46,0.95],[5272.6,0.98],[5272.75,1.01],[5272.9,0.98],[5273.05,1.00],[5273.2,0.97],[5273.35,1.00],[5273.54,0.96],[5273.7,0.99],[5273.85,0.96],[5274.0,0.98],[5274.15,0.95],[5274.3,0.98],[5274.45,0.94],[5274.6,0.96],[5274.75,0.93],[5274.9,0.95],[5275.05,0.91],[5275.2,0.93],[5275.35,0.89],[5275.5,0.91],[5275.65,0.88],[5275.82,0.86],[5275.94,0.78],[5276.0,0.71],[5276.08,0.76],[5276.18,0.85],[5276.3,0.83],[5276.45,0.86],[5276.6,0.82],[5276.75,0.84],[5276.9,0.81],[5277.05,0.83],[5277.2,0.80],[5277.35,0.81],[5277.5,0.78],[5277.65,0.80],[5277.8,0.77],[5277.95,0.79],[5278.1,0.76],[5278.21,0.75],[5278.33,0.80],[5278.45,0.78],[5278.6,0.82],[5278.75,0.86],[5278.87,0.92],[5278.95,0.97],[5279.1,0.99],[5279.29,1.06],[5279.45,0.98],[5279.6,1.02],[5279.75,0.97],[5279.9,1.01],[5280.05,0.96],[5280.2,1.00],[5280.35,0.97],[5280.5,1.02],[5280.65,0.97],[5280.8,0.99],[5280.95,0.95],[5281.1,0.99],[5281.25,0.96],[5281.4,1.01],[5281.55,0.95],[5281.7,0.99],[5281.85,0.96],[5282.0,1.00],[5282.15,0.96],[5282.3,0.99],[5282.45,0.96],[5282.6,0.99],[5282.75,0.97],[5283.0,0.98]];
const mod12 = [[5270.0,0.92],[5271.62,0.91],[5271.86,0.93],[5272.34,0.95],[5272.82,0.98],[5273.30,0.99],[5274.26,0.98],[5274.74,0.96],[5275.46,0.92],[5275.82,0.88],[5275.94,0.80],[5276.00,0.76],[5276.12,0.85],[5276.53,0.85],[5277.13,0.83],[5278.09,0.79],[5278.45,0.87],[5278.87,0.99],[5279.53,0.99],[5280.73,0.99],[5281.93,0.98],[5283.0,0.99]];
const syn12 = [[5270.0,1.0],[5271.4,1.0],[5271.62,0.98],[5272.22,0.98],[5272.5,1.0],[5275.6,0.99],[5275.82,0.96],[5275.94,0.88],[5276.0,0.85],[5276.08,0.89],[5276.2,0.96],[5276.45,0.995],[5283.0,1.0]];
const marks12 = [[5272.42,''],[5276.02,'']];

// ---------- layout / style ----------
const panels = [
  [xRange1, xTicks1, obs1, mod1, syn1, marks1],
  [xRange2, xTicks2, obs2, mod2, syn2, marks2],
  [xRange3, xTicks3, obs3, mod3, syn3, marks3],
  [xRange4, xTicks4, obs4, mod4, syn4, marks4],
  [xRange5, xTicks5, obs5, mod5, syn5, marks5],
  [xRange6, xTicks6, obs6, mod6, syn6, marks6],
  [xRange7, xTicks7, obs7, mod7, syn7, marks7],
  [xRange8, xTicks8, obs8, mod8, syn8, marks8],
  [xRange9, xTicks9, obs9, mod9, syn9, marks9],
  [xRange10, xTicks10, obs10, mod10, syn10, marks10],
  [xRange11, xTicks11, obs11, mod11, syn11, marks11],
  [xRange12, xTicks12, obs12, mod12, syn12, marks12]
];
const colLeft = [198, 631.7, 1065.2], rowTop = [118.6, 366.2, 613.7, 861.3];
const PW = 361.3, PH = 206.3;
const TICK_Y = 1.123, LABEL_Y = 1.2;
const tickFont = {fontFamily: 'DejaVu Sans', fontSize: 16, color: '#000'};

const grid = [], xAxis = [], yAxis = [], series = [];
panels.forEach((p, i) => {
  const [xr, xt, obs, mod, syn, marks] = p;
  const col = i % 3, row = Math.floor(i / 3);
  grid.push({left: colLeft[col], top: rowTop[row], width: PW, height: PH,
    show: true, borderColor: '#000', borderWidth: 1.1, backgroundColor: 'transparent', containLabel: false});
  const tickStyle = {inside: true, length: 5, lineStyle: {color: '#000', width: 1}};
  xAxis.push({type: 'value', gridIndex: i, position: 'bottom', min: xr[0], max: xr[1],
    axisLine: {show: false}, splitLine: {show: false},
    axisTick: Object.assign({customValues: xt}, tickStyle),
    axisLabel: Object.assign({customValues: xt, margin: 6, formatter: v => String(v)}, tickFont)});
  xAxis.push({type: 'value', gridIndex: i, position: 'top', min: xr[0], max: xr[1],
    axisLine: {show: false}, splitLine: {show: false},
    axisTick: Object.assign({customValues: xt}, tickStyle), axisLabel: {show: false}});
  yAxis.push({type: 'value', gridIndex: i, position: 'left', min: 0, max: 1.5,
    axisLine: {show: false}, splitLine: {show: false},
    axisTick: Object.assign({customValues: yTicks}, tickStyle),
    axisLabel: Object.assign({show: col === 0, customValues: yTicks, margin: 7, formatter: v => v.toFixed(1)}, tickFont)});
  yAxis.push({type: 'value', gridIndex: i, position: 'right', min: 0, max: 1.5,
    axisLine: {show: false}, splitLine: {show: false},
    axisTick: Object.assign({customValues: yTicks}, tickStyle), axisLabel: {show: false}});
  const xi = 2 * i, yi = 2 * i;
  series.push({type: 'line', xAxisIndex: xi, yAxisIndex: yi, data: obs, showSymbol: false, symbol: 'none',
    lineStyle: {color: '#000', width: 3.6, join: 'round'}, z: 2, silent: true});
  series.push({type: 'line', xAxisIndex: xi, yAxisIndex: yi, data: mod, showSymbol: false, symbol: 'none',
    lineStyle: {color: '#ff0000', width: 2.2}, z: 3, silent: true});
  series.push({type: 'line', xAxisIndex: xi, yAxisIndex: yi, data: syn, showSymbol: false, symbol: 'none',
    lineStyle: {color: '#808080', width: 1.3}, z: 4, silent: true});
  series.push({type: 'scatter', xAxisIndex: xi, yAxisIndex: yi, symbol: 'rect', symbolSize: [2, 7],
    itemStyle: {color: '#000'}, data: marks.map(m => [m[0], TICK_Y]), z: 5, silent: true});
  const labelled = marks.filter(m => m[1] !== '');
  if (labelled.length) {
    series.push({type: 'scatter', xAxisIndex: xi, yAxisIndex: yi, symbolSize: 0, z: 6, silent: true,
      data: labelled.map(m => ({value: [m[0], LABEL_Y], name: m[1]})),
      label: {show: true, formatter: '{b}', position: [0, 0], rotate: 90, align: 'left', verticalAlign: 'middle',
        fontFamily: 'Liberation Serif', fontSize: 16, color: '#000'}});
  }
});

const chart = echarts.init(document.getElementById('c'), null, {renderer: 'canvas'});
chart.setOption({
  animation: false,
  backgroundColor: '#fff',
  grid, xAxis, yAxis, series,
  graphic: [
    {type: 'text', x: 82, y: 593, rotation: Math.PI / 2,
      style: {text: 'Normalized flux', font: '44px "Liberation Serif"', fill: '#000', textAlign: 'center', textVerticalAlign: 'middle'}},
    {type: 'text', x: 792.5, y: 1150,
      style: {text: 'Wavelength (Å)', font: '44px "Liberation Serif"', fill: '#000', textAlign: 'center', textVerticalAlign: 'middle'}}
  ]
});
</script>
</body></html>
